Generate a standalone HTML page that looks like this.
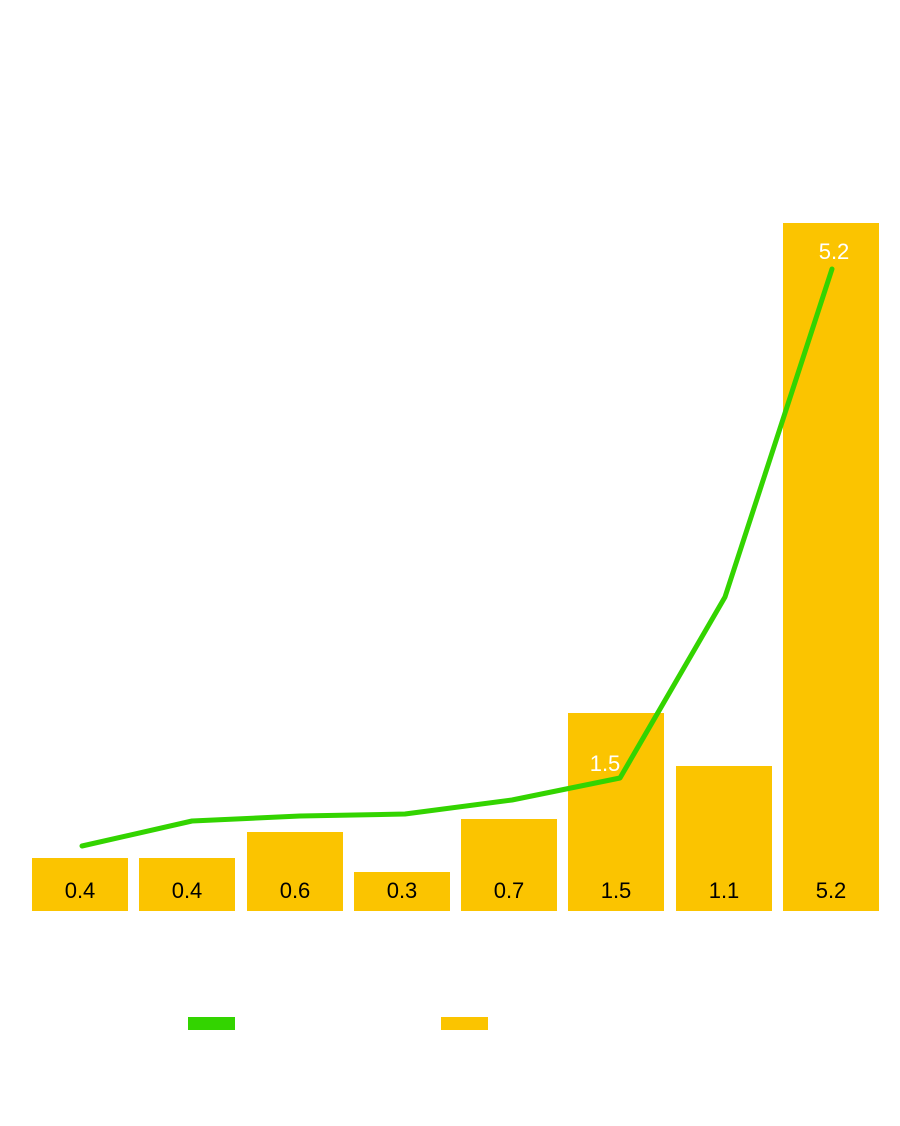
<!DOCTYPE html>
<html><head><style>html,body{margin:0;padding:0;background:#fff}</style></head>
<body>
<svg width="900" height="1121" xmlns="http://www.w3.org/2000/svg" font-family="Liberation Sans, sans-serif">
<g fill="#FBC400">
<rect x="32" y="858" width="96" height="53"/>
<rect x="139" y="858" width="96" height="53"/>
<rect x="247" y="832" width="96" height="79"/>
<rect x="354" y="872" width="96" height="39"/>
<rect x="461" y="819" width="96" height="92"/>
<rect x="568" y="713" width="96" height="198"/>
<rect x="676" y="766" width="96" height="145"/>
<rect x="783" y="223" width="96" height="688"/>
</g>
<g font-size="22" text-anchor="middle" fill="#000">
<text x="80" y="898">0.4</text>
<text x="187" y="898">0.4</text>
<text x="295" y="898">0.6</text>
<text x="402" y="898">0.3</text>
<text x="509" y="898">0.7</text>
<text x="616" y="898">1.5</text>
<text x="724" y="898">1.1</text>
<text x="831" y="898">5.2</text>
</g>
<g font-size="22" text-anchor="middle" fill="#fff">
<text x="605" y="771">1.5</text>
<text x="834" y="259">5.2</text>
</g>
<polyline points="82,846 192,821 300,816 405,814 512,800 620,778 725,597 832,269" fill="none" stroke="#33D400" stroke-width="5" stroke-linecap="round" stroke-linejoin="round"/>
<rect x="188" y="1017" width="47" height="13" fill="#33D400"/>
<rect x="441" y="1017" width="47" height="13" fill="#FBC400"/>
</svg>
</body></html>
